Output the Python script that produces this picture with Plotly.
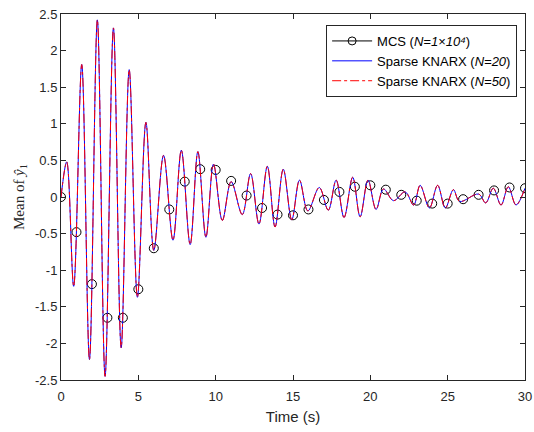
import plotly.graph_objects as go

# Sparse KNARX mean response: turning points (time s, value)
knarx_t = [0.0, 0.37, 0.82, 1.34, 1.84, 2.35, 2.85, 3.39, 3.89, 4.41, 4.94, 5.49, 6.0,
           6.63, 7.24, 7.78, 8.35, 8.85, 9.37, 9.86, 10.43, 11.0, 11.72, 12.26, 12.8,
           13.34, 13.84, 14.37, 14.92, 15.42, 15.96, 16.7, 17.28, 17.79, 18.3, 18.86,
           19.34, 19.85, 20.37, 20.85, 21.5, 22.25, 22.8, 23.22, 23.82, 24.35, 24.85,
           25.37, 25.77, 27.0, 27.46, 27.95, 28.45, 28.92, 29.42, 30.0]
knarx_y = [0.0, 0.48, -1.22, 1.81, -2.22, 2.42, -2.45, 2.31, -2.06, 1.74, -1.37, 1.02, -0.73,
           0.57, -0.59, 0.64, -0.65, 0.62, -0.55, 0.45, -0.32, 0.21, -0.24, 0.32, -0.37,
           0.42, -0.41, 0.38, -0.31, 0.23, -0.19, 0.13, -0.18, 0.23, -0.28, 0.27,
           -0.27, 0.23, -0.17, 0.11, -0.05, 0.07, -0.11, 0.16, -0.15, 0.16, -0.15,
           0.10, -0.06, 0.04, -0.08, 0.12, -0.11, 0.14, -0.11, 0.12]

# MCS (N=1e4) mean sampled every second
mcs_t = list(range(0, 31))
mcs_y = [0.0, -0.48, -1.19, -1.65, -1.65, -1.26, -0.70, -0.17, 0.21, 0.38, 0.37,
         0.22, 0.02, -0.15, -0.24, -0.25, -0.17, -0.04, 0.07, 0.14, 0.16,
         0.10, 0.03, -0.05, -0.09, -0.09, -0.03, 0.03, 0.09, 0.13, 0.12]

y_ticks = [-2.5, -2, -1.5, -1, -0.5, 0, 0.5, 1, 1.5, 2, 2.5]
y_tick_text = ["-2.5", "-2", "-1.5", "-1", "-0.5", "0", "0.5", "1", "1.5", "2", "2.5"]
x_ticks = [0, 5, 10, 15, 20, 25, 30]

dark = "#262626"
fig = go.Figure()

# legend entry for MCS
fig.add_trace(go.Scatter(x=[None], y=[None], mode="lines+markers",
                         name="MCS (<i>N=1</i>×<i>10⁴</i>)",
                         line=dict(color="black", width=1),
                         marker=dict(symbol="circle-open", size=8, color="black",
                                     line=dict(width=1))))
fig.add_trace(go.Scatter(x=mcs_t, y=mcs_y, mode="markers", showlegend=False,
                         marker=dict(symbol="circle-open", size=9, color="black",
                                     line=dict(width=1))))
fig.add_trace(go.Scatter(x=knarx_t, y=knarx_y, mode="lines",
                         name="Sparse KNARX (<i>N=20</i>)",
                         line=dict(color="#0000ff", width=1, shape="spline", smoothing=1.0)))
fig.add_trace(go.Scatter(x=knarx_t, y=knarx_y, mode="lines",
                         name="Sparse KNARX (<i>N=50</i>)",
                         line=dict(color="#ff0000", width=1, dash="dashdot",
                                   shape="spline", smoothing=1.0)))

axis_common = dict(showgrid=False, zeroline=False, showline=True, linecolor=dark,
                   linewidth=1, mirror="ticks", ticks="inside", ticklen=5,
                   tickcolor=dark, tickwidth=1, automargin=False,
                   tickfont=dict(family="Liberation Sans, Arial", size=13, color=dark))

fig.update_layout(
    width=534, height=432,
    margin=dict(l=61, r=9, t=14, b=52),
    paper_bgcolor="white", plot_bgcolor="white",
    xaxis=dict(range=[0, 30], tickvals=x_ticks, ticklabelstandoff=4,
               title=dict(text="Time (s)", standoff=8,
                          font=dict(family="Liberation Sans, Arial", size=15, color=dark)),
               **axis_common),
    yaxis=dict(range=[-2.5, 2.5], tickvals=y_ticks, ticktext=y_tick_text,
               title=dict(text="Mean of <i>ŷ</i><sub>1</sub>", standoff=6,
                          font=dict(family="Liberation Serif, Times New Roman", size=15,
                                    color=dark)),
               **axis_common),
    legend=dict(x=0.983, y=0.97, xanchor="right", yanchor="top",
                bgcolor="white", bordercolor=dark, borderwidth=1,
                font=dict(family="Liberation Sans, Arial", size=13, color="black"),
                tracegroupgap=0, itemwidth=40),
    showlegend=True,
)

fig.write_html("out.html", post_script="document.body.style.margin='0';",
               config={"displayModeBar": False})
